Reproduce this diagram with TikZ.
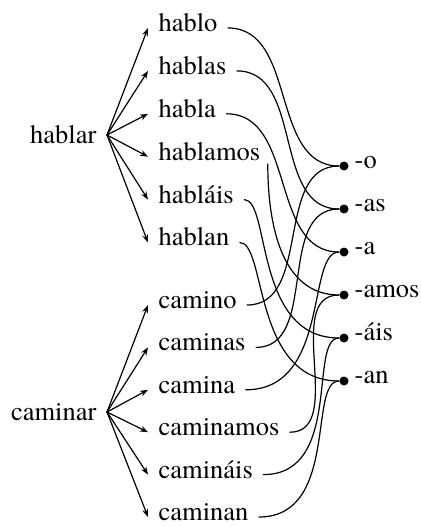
\documentclass[tikz,border=0pt]{standalone}
\usepackage{fontspec}
\setmainfont{TeX Gyre Termes}
\usetikzlibrary{arrows.meta}
\tikzset{
  root/.style={anchor=east, inner xsep=10pt},
  form/.style={anchor=west, inner xsep=10pt, text height=0.68em, text depth=0pt},
  suffix/.style={circle, fill, inner sep=0pt, minimum size=9pt},
  link/.style={out=0, in=180, shorten <=10pt},
  sharp/.style={link, out looseness=0.4, in looseness=1.3},
  wide/.style={link, out looseness=1.3, in looseness=0.5},
}
\begin{document}
\begin{tikzpicture}[x=1pt, y=1pt, line join=round, line cap=round, line width=1.2pt,
    >={Stealth[length=8pt,width=6pt]}, font=\fontsize{26.5}{30}\selectfont,
    label distance=5pt, every label/.style={inner sep=0pt, text height=0.46em, text depth=0pt}]
  \useasboundingbox (0,0) rectangle (420,-527);
  % infinitives
  \node[root] (hablar) at (107,-135) {hablar};
  \node[root] (caminar) at (107,-412) {caminar};
  % conjugated forms
  \foreach \e/\w [count=\i from 0] in {o/hablo,as/hablas,a/habla,amos/hablamos,ais/habláis,an/hablan}{
    \node[form] (h\e) at (148,{-28-42.9*\i}) {\w};
    \draw[->] (hablar.east) -- (h\e.west);
  }
  \foreach \e/\w [count=\i from 0] in {o/camino,as/caminas,a/camina,amos/caminamos,ais/camináis,an/caminan}{
    \node[form] (c\e) at (148,{-305-42.4*\i}) {\w};
    \draw[->] (caminar.east) -- (c\e.west);
  }
  % endings
  \foreach \e/\s [count=\i from 0] in {o/-o,as/-as,a/-a,amos/-amos,ais/-áis,an/-an}
    \node[suffix, label=right:\s] (\e) at (344,{-166-43*\i}) {};
  % links
  \draw (ho) to[link] (o);
  \draw (has) to[link] (as);
  \draw (ha) to[link] (a);
  \draw ([xshift=-3pt]hamos.south east) to[out=-90, in=180] (amos);
  \draw (hais) to[sharp] (ais);
  \draw (han) to[sharp] (an);
  \draw (co) to[link] (o);
  \draw (cas) to[link] (as);
  \draw (ca) to[wide] (a);
  \draw (camos) to[link] (amos);
  \draw (cais) to[wide] (ais);
  \draw (can) to[wide] (an);
\end{tikzpicture}
\end{document}
